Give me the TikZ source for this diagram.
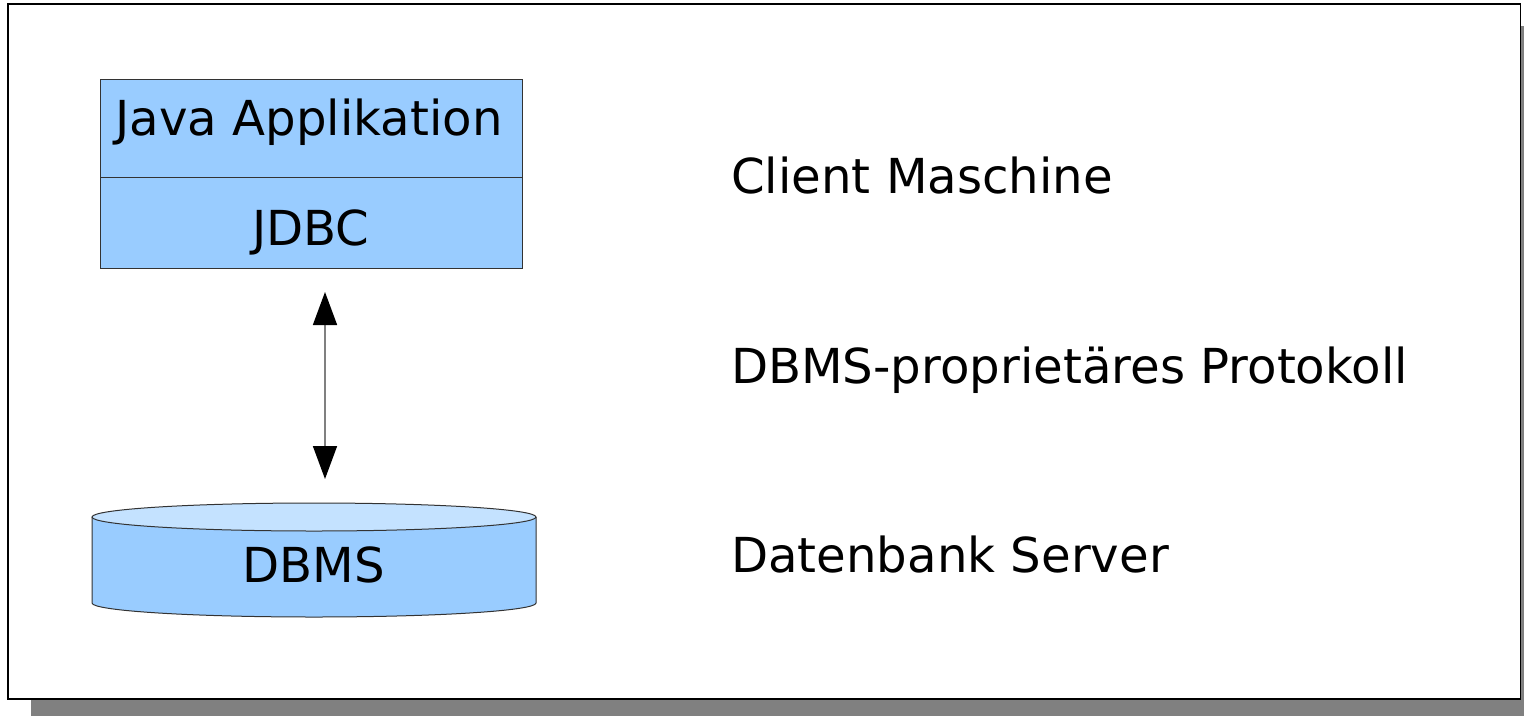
\documentclass[tikz,border=0pt]{standalone}
\usepackage{fontspec}
\setmainfont{DejaVu Sans}
\usetikzlibrary{arrows.meta}
\definecolor{boxblue}{HTML}{99CCFF}
\definecolor{endblue}{HTML}{C4E2FF}
\definecolor{shadowgray}{HTML}{808080}
\tikzset{
  layerbox/.style={draw=black!80, line width=1pt, fill=boxblue, minimum width=422pt, anchor=north west, inner sep=0pt, outer sep=0pt},
  lbl/.style={inner sep=0pt, font=\fontsize{48.2}{58}\selectfont},
  connector/.style={draw=shadowgray, line width=1.6pt, {Triangle[length=33pt,width=24pt,fill=black,color=black]}-{Triangle[length=33pt,width=24pt,fill=black,color=black]}},
}
\begin{document}
\begin{tikzpicture}[x=1pt,y=-1pt]
\useasboundingbox (0,0) rectangle (1524,716);
% shadow and frame
\fill[shadowgray] (31,26) rectangle (1524,716);
\draw[fill=white, line width=1.5pt, draw=black] (8,4) rectangle (1520.5,699);
% boxes
\node[layerbox, minimum height=98pt] (app) at (100,79) {};
\node[layerbox, minimum height=91pt] (jdbc) at (100,177) {};
\node[lbl, anchor=base] (apptext) at (309,135) {Java Applikation};
\node[lbl, anchor=base] (jdbctext) at (311,245) {JDBC};
% cylinder
\path[fill=boxblue, draw=black!80, line width=1pt] (92,517) -- (92,603) arc[start angle=180, end angle=360, x radius=222, y radius=-14] -- (536,517);
\path[fill=endblue, draw=black!80, line width=1pt] (314,517) ellipse[x radius=222, y radius=14];
\node[lbl, anchor=base] (dbmstext) at (314,582) {DBMS};
% connector
\coordinate (atop) at (325,292);
\coordinate (abot) at (325,479);
\draw[connector] (atop) -- (abot);
% right labels
\node[lbl, anchor=base west] (client) at (731,193) {Client Maschine};
\node[lbl, anchor=base west] (proto) at (731,383) {DBMS-proprietäres Protokoll};
\node[lbl, anchor=base west] (server) at (731,572) {Datenbank Server};
\end{tikzpicture}
\end{document}
